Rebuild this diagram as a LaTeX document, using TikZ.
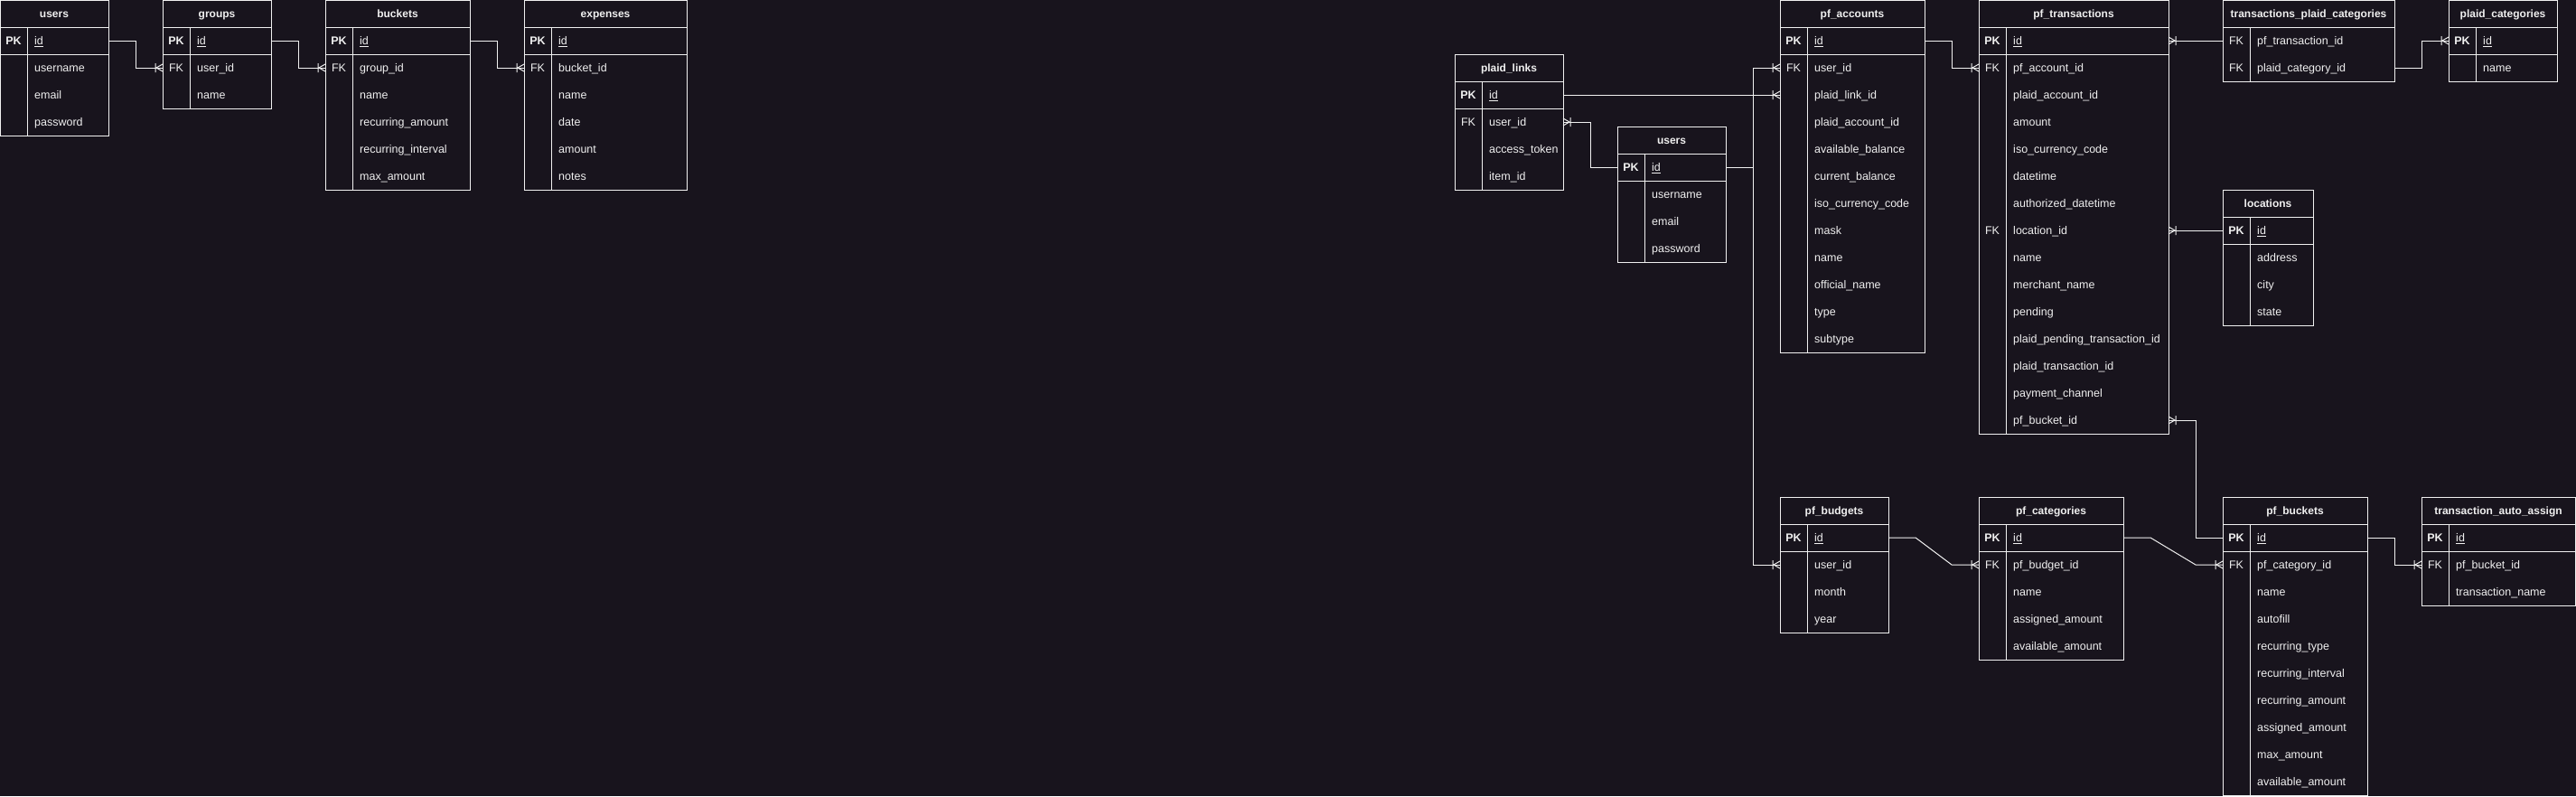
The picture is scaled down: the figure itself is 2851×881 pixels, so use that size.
\documentclass[tikz,border=0pt]{standalone}
\usepackage{fontspec}
\setmainfont{Liberation Sans}
\usetikzlibrary{calc}
\definecolor{bg}{HTML}{18141D}
\definecolor{fg}{HTML}{F0F0F0}
\newcommand\pkey{\textbf{PK}}
\newcommand\ertable[7]{% #1 name, #2 left, #3 top, #4 width, #5 title, #6 pk section (0/1), #7 rows
  \node[rowarea, minimum width=#4pt] (#1) at ({#2+#4/2},{#3+15}) {};
  \node[hdrtxt] (#1-t) at ({#2+#4/2},{#3+19.3}) {#5};
  \foreach \k/\f [count=\i] in {#7} {
    \node[rowarea, minimum width=#4pt] (#1-\i) at ({#2+#4/2},{#3+15+30*\i}) {};
    \node[keytxt] (#1-\i-k) at ({#2+15},{#3+19.5+30*\i}) {\k};
    \node[fldtxt] (#1-\i-f) at ({#2+38},{#3+19.5+30*\i}) {\f};
    \xdef\nrows{\i}
  }
  \draw[tline] (#2,#3) rectangle ({#2+#4},{#3+30+30*\nrows});
  \draw[tline] (#2,{#3+30}) -- ++(#4,0);
  \ifnum#6=1 \draw[tline] (#2,{#3+60}) -- ++(#4,0);\fi
  \draw[tline] ({#2+30},{#3+30}) -- ({#2+30},{#3+30+30*\nrows});
}
% crow's foot with bar; #1 anchor at table edge, #2 = -1 if line arrives from the left, +1 if from the right
\newcommand\crow[2]{%
  \draw[conn] ($(#1)+({#2*7},0)$) -- ($(#1)+(0,-4)$)
              ($(#1)+({#2*7},0)$) -- ($(#1)+(0,4)$)
              ($(#1)+({#2*8},-5)$) -- ($(#1)+({#2*8},5)$);
}
\tikzset{
  rowarea/.style={inner sep=0pt, outer sep=0pt, minimum height=30pt, draw=none},
  hdrtxt/.style={text=fg, inner sep=0pt, anchor=base, font=\bfseries\fontsize{12}{14}\selectfont},
  keytxt/.style={text=fg, inner sep=0pt, anchor=base, font=\fontsize{12.5}{15}\selectfont},
  fldtxt/.style={text=fg, inner sep=0pt, anchor=base west, font=\fontsize{12.5}{15}\selectfont},
  tline/.style={draw=fg, line width=1pt},
  conn/.style={draw=fg, line width=1pt},
}
\begin{document}
\begin{tikzpicture}[x=1pt, y=-1pt]
\fill[bg] (0,0) rectangle (2851,881);
\useasboundingbox (0,0) rectangle (2851,881);

\ertable{usr}{0}{0}{120}{users}{1}{\pkey/\underline{id}, /username, /email, /password}
\ertable{grp}{180}{0}{120}{groups}{1}{\pkey/\underline{id}, FK/user\_id, /name}
\ertable{bkt}{360}{0}{160}{buckets}{1}{\pkey/\underline{id}, FK/group\_id, /name, /recurring\_amount, /recurring\_interval, /max\_amount}
\ertable{exp}{580}{0}{180}{expenses}{1}{\pkey/\underline{id}, FK/bucket\_id, /name, /date, /amount, /notes}

\ertable{pl}{1610}{60}{120}{plaid\_links}{1}{\pkey/\underline{id}, FK/user\_id, /access\_token, /item\_id}
\ertable{us}{1790}{140}{120}{users}{1}{\pkey/\underline{id}, /username, /email, /password}
\ertable{pfa}{1970}{0}{160}{pf\_accounts}{1}{\pkey/\underline{id}, FK/user\_id, /plaid\_link\_id, /plaid\_account\_id, /available\_balance, /current\_balance, /iso\_currency\_code, /mask, /name, /official\_name, /type, /subtype}
\ertable{pft}{2190}{0}{210}{pf\_transactions}{1}{\pkey/\underline{id}, FK/pf\_account\_id, /plaid\_account\_id, /amount, /iso\_currency\_code, /datetime, /authorized\_datetime, FK/location\_id, /name, /merchant\_name, /pending, /plaid\_pending\_transaction\_id, /plaid\_transaction\_id, /payment\_channel, /pf\_bucket\_id}
\ertable{tpc}{2460}{0}{190}{transactions\_plaid\_categories}{0}{FK/pf\_transaction\_id, FK/plaid\_category\_id}
\ertable{pcat}{2710}{0}{120}{plaid\_categories}{1}{\pkey/\underline{id}, /name}
\ertable{loc}{2460}{210}{100}{locations}{1}{\pkey/\underline{id}, /address, /city, /state}
\ertable{pbud}{1970}{550}{120}{pf\_budgets}{1}{\pkey/\underline{id}, /user\_id, /month, /year}
\ertable{pcg}{2190}{550}{160}{pf\_categories}{1}{\pkey/\underline{id}, FK/pf\_budget\_id, /name, /assigned\_amount, /available\_amount}
\ertable{pbk}{2460}{550}{160}{pf\_buckets}{1}{\pkey/\underline{id}, FK/pf\_category\_id, /name, /autofill, /recurring\_type, /recurring\_interval, /recurring\_amount, /assigned\_amount, /max\_amount, /available\_amount}
\ertable{taa}{2680}{550}{170}{transaction\_auto\_assign}{1}{\pkey/\underline{id}, FK/pf\_bucket\_id, /transaction\_name}

% connectors
\draw[conn] (usr-1.east) -- ++(30,0) |- (grp-2.west); \crow{grp-2.west}{-1}
\draw[conn] (grp-1.east) -- ++(30,0) |- (bkt-2.west); \crow{bkt-2.west}{-1}
\draw[conn] (bkt-1.east) -- ++(30,0) |- (exp-2.west); \crow{exp-2.west}{-1}

\draw[conn] (pl-1.east) -- (pfa-3.west); \crow{pfa-3.west}{-1}
\draw[conn] (us-1.east) -- ++(30,0) |- (pfa-2.west); \crow{pfa-2.west}{-1}
\draw[conn] (us-1.east) -- ++(30,0) |- (pbud-2.west); \crow{pbud-2.west}{-1}
\draw[conn] (us-1.west) -- ++(-30,0) |- (pl-2.east); \crow{pl-2.east}{1}
\draw[conn] (pfa-1.east) -- ++(30,0) |- (pft-2.west); \crow{pft-2.west}{-1}
\draw[conn] (tpc-1.west) -- (pft-1.east); \crow{pft-1.east}{1}
\draw[conn] (tpc-2.east) -- ++(30,0) |- (pcat-1.west); \crow{pcat-1.west}{-1}
\draw[conn] (loc-1.west) -- (pft-8.east); \crow{pft-8.east}{1}
\draw[conn] (pbud-1.east) -- ++(30,0) -- ++(40,30) -- (pcg-2.west); \crow{pcg-2.west}{-1}
\draw[conn] (pcg-1.east) -- ++(30,0) -- ++(50,30) -- (pbk-2.west); \crow{pbk-2.west}{-1}
\draw[conn] (pbk-1.west) -- ++(-30,0) |- (pft-15.east); \crow{pft-15.east}{1}
\draw[conn] (pbk-1.east) -- ++(30,0) |- (taa-2.west); \crow{taa-2.west}{-1}
\end{tikzpicture}
\end{document}
